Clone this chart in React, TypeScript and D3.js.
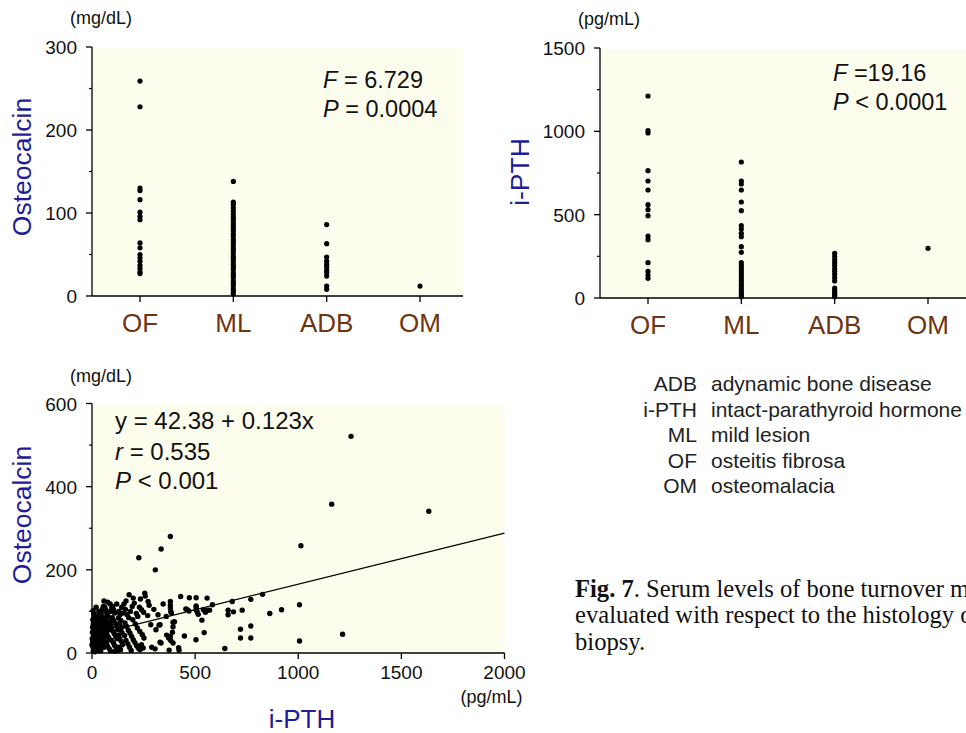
import React, { useEffect } from "react";
import * as d3 from "d3";

const W = 966;
const H = 733;
const FONT = "'Liberation Sans', Arial, sans-serif";
const SERIF = "'Liberation Serif', 'Times New Roman', serif";
const BG = "#fdfdee";
const TITLE_BLUE = "#221c98";
const CAT_BROWN = "#6e3510";

const categories = ["OF", "ML", "ADB", "OM"];

// osteocalcin (mg/dL) by histology
const ocOF = [259, 228, 130, 127, 116, 101, 96, 92, 64, 58, 50, 46, 42, 37, 33, 29, 27];
const ocML = [138, 113, 110, 106, 102, 98, 95, 92, 88, 85, 82, 79, 75, 72, 68, 65, 62, 58, 55, 52,
  48, 45, 42, 38, 35, 32, 28, 25, 22, 18, 15, 12, 8, 5, 2];
const ocADB = [86, 63, 47, 42, 38, 35, 31, 28, 24, 12, 8];
const ocOM = [12];

// i-PTH (pg/mL) by histology
const pthOF = [1212, 1005, 990, 764, 702, 648, 560, 530, 494, 372, 350, 212, 160, 138, 118];
const pthML = [816, 702, 684, 648, 576, 524, 434, 414, 388, 368, 308, 274, 212, 195, 180, 165, 150,
  135, 120, 105, 90, 75, 60, 45, 30, 18, 8];
const pthADB = [268, 250, 230, 212, 195, 175, 160, 142, 122, 102, 60, 48, 35, 25, 15, 8];
const pthOM = [298];

const yTicksOC = [0, 100, 200, 300];
const yTicksPTH = [0, 500, 1000, 1500];
const xTicksScatter = [0, 500, 1000, 1500, 2000];
const yTicksScatter = [0, 200, 400, 600];

// i-PTH vs osteocalcin, [pth, osteocalcin]
const scatter: [number, number][] = [
  [5, 102], [8, 95], [10, 88], [4, 80], [12, 75], [6, 70], [15, 66], [3, 62], [9, 58], [18, 55],
  [2, 50], [7, 46], [14, 44], [20, 42], [5, 38], [11, 35], [16, 32], [24, 30], [3, 28], [8, 25],
  [13, 22], [19, 20], [26, 18], [4, 15], [10, 12], [17, 10], [22, 8], [30, 6], [6, 5], [14, 3],
  [28, 48], [32, 40], [35, 35], [38, 28], [30, 22], [36, 15], [42, 12], [25, 60], [30, 70], [34, 78],
  [40, 85], [45, 95], [50, 105], [55, 112], [22, 80], [28, 90], [38, 55], [44, 50], [48, 42], [52, 36],
  [56, 30], [46, 24], [50, 18], [58, 14], [40, 65], [48, 72], [54, 60], [58, 48], [60, 40], [33, 100],
  [20, 110], [12, 48], [1, 34], [0, 20], [42, 5], [60, 68], [57, 85], [52, 78],
  [62, 110], [68, 103], [72, 95], [78, 88], [65, 78], [70, 70], [75, 62], [82, 56], [66, 52], [72, 45],
  [80, 38], [86, 32], [64, 28], [70, 22], [76, 16], [84, 10], [90, 5], [92, 100], [96, 108], [100, 112],
  [105, 104], [110, 96], [98, 85], [104, 78], [112, 72], [118, 65], [95, 60], [102, 52], [108, 46], [115, 40],
  [122, 34], [96, 30], [104, 24], [110, 18], [118, 12], [125, 6], [130, 100], [136, 92], [128, 84], [140, 78],
  [132, 70], [145, 62], [138, 55], [146, 48], [128, 42], [134, 35], [142, 28], [148, 20], [130, 14], [138, 8],
  [120, 118], [88, 118], [76, 122], [144, 110], [150, 96], [58, 125], [84, 75], [90, 66], [126, 56], [112, 4],
  [180, 140], [256, 144], [272, 124], [155, 118], [162, 105], [170, 92], [178, 85], [186, 100], [195, 112], [205, 120],
  [215, 95], [222, 88], [230, 110], [240, 104], [250, 98], [160, 72], [168, 64], [176, 55], [184, 48], [192, 40],
  [200, 32], [208, 25], [216, 18], [224, 12], [232, 8], [158, 42], [165, 30], [174, 22], [182, 14], [190, 6],
  [198, 80], [210, 70], [220, 60], [232, 52], [244, 44], [252, 36], [240, 20], [248, 12], [165, 125], [235, 130],
  [200, 132],
  [277, 115], [258, 137], [285, 68], [310, 56], [330, 68], [330, 26], [290, 14], [306, 10], [325, 67], [335, 24],
  [362, 43], [372, 36], [382, 30], [393, 24], [374, 7], [422, 7], [393, 74], [393, 63], [380, 124], [380, 115],
  [380, 108], [382, 100], [385, 96], [430, 136], [420, 13], [400, 75], [390, 50], [380, 40], [300, 105], [270, 90],
  [320, 92], [345, 118], [360, 88],
  [448, 41], [455, 106], [460, 105], [470, 101], [472, 133], [505, 133], [505, 110], [505, 113], [505, 104], [510, 99],
  [515, 93], [504, 32], [533, 79], [544, 49], [540, 104], [550, 98], [558, 132], [558, 103], [570, 103], [584, 116],
  [644, 11], [660, 103], [660, 92], [680, 124], [686, 99],
  [720, 57], [720, 36], [728, 103], [770, 129], [770, 65], [770, 36], [827, 141], [862, 95], [919, 104], [1006, 116],
  [1006, 29], [1013, 258], [1162, 358], [1215, 45], [1256, 521], [1633, 341], [380, 280], [335, 250], [227, 229], [307, 200],
];

const regIntercept = 42.38;
const regSlope = 0.123;

const legendAbbr = ["ADB", "i-PTH", "ML", "OF", "OM"];
const legendDesc = ["adynamic bone disease", "intact-parathyroid hormone", "mild lesion", "osteitis fibrosa", "osteomalacia"];

const captionLines = [
  "Serum levels of bone turnover markers",
  "evaluated with respect to the histology of bone",
  "biopsy.",
];

type YAxisProps = {
  x: number;
  y: d3.ScaleLinear<number, number>;
  ticks: number[];
  minor: number[];
};

function YAxis({ x, y, ticks, minor }: YAxisProps) {
  const [lo, hi] = y.domain();
  return (
    <g>
      <line x1={x} x2={x} y1={y(lo)} y2={y(hi)} stroke="#000" strokeWidth={1.3} />
      {ticks.map((t) => (
        <g key={t}>
          <line x1={x - 6} x2={x} y1={y(t)} y2={y(t)} stroke="#000" strokeWidth={1.3} />
          <text x={x - 15} y={y(t) + 7} textAnchor="end" fontSize={19} fontFamily={FONT} fill="#111">
            {t}
          </text>
        </g>
      ))}
      {minor.map((t) => (
        <line key={"m" + t} x1={x - 3} x2={x} y1={y(t)} y2={y(t)} stroke="#000" strokeWidth={1.2} />
      ))}
    </g>
  );
}

type StripProps = {
  left: number;
  right: number;
  top: number;
  bottom: number;
  max: number;
  ticks: number[];
  minor: number[];
  groups: number[][];
  unit: string;
  title: string;
  titleX: number;
  titleY: number;
  stat1: [string, string];
  stat2: [string, string];
  statX: number;
  statY: number;
};

function StripPanel(p: StripProps) {
  const y = d3.scaleLinear().domain([0, p.max]).range([p.bottom, p.top]);
  const x = d3.scalePoint<string>().domain(categories).range([p.left + 48, p.left + 328]);
  return (
    <g>
      <rect x={p.left} y={p.top + 1} width={p.right - p.left} height={p.bottom - p.top - 1} fill={BG} />
      {categories.map((c, i) =>
        p.groups[i].map((v, j) => (
          <circle key={c + j} cx={x(c)} cy={y(v)} r={2.6} fill="#000" />
        ))
      )}
      <line x1={p.left} x2={p.right} y1={p.bottom} y2={p.bottom} stroke="#000" strokeWidth={1.3} />
      {categories.map((c) => (
        <g key={c}>
          <line x1={x(c)} x2={x(c)} y1={p.bottom} y2={p.bottom + 6} stroke="#000" strokeWidth={1.3} />
          <text x={x(c)} y={p.bottom + 36} textAnchor="middle" fontSize={26} fontFamily={FONT} fill={CAT_BROWN}>
            {c}
          </text>
        </g>
      ))}
      <YAxis x={p.left} y={y} ticks={p.ticks} minor={p.minor} />
      <text x={p.left - 22} y={p.top - 23} fontSize={18} fontFamily={FONT} fill="#111">
        {p.unit}
      </text>
      <text
        transform={`translate(${p.titleX},${p.titleY}) rotate(-90)`}
        textAnchor="middle"
        fontSize={26.5}
        fontFamily={FONT}
        fill={TITLE_BLUE}
      >
        {p.title}
      </text>
      <text x={p.statX} y={p.statY} fontSize={23.5} fontFamily={FONT} fill="#111">
        <tspan fontStyle="italic">{p.stat1[0]}</tspan>
        {p.stat1[1]}
      </text>
      <text x={p.statX} y={p.statY + 28.5} fontSize={23.5} fontFamily={FONT} fill="#111">
        <tspan fontStyle="italic">{p.stat2[0]}</tspan>
        {p.stat2[1]}
      </text>
    </g>
  );
}

function ScatterPanel() {
  const left = 92;
  const right = 504.5;
  const top = 403.5;
  const bottom = 653;
  const x = d3.scaleLinear().domain([0, 2000]).range([left, right]);
  const y = d3.scaleLinear().domain([0, 600]).range([bottom, top]);
  const fit = d3
    .line<number>()
    .x((d) => x(d))
    .y((d) => y(regIntercept + regSlope * d));
  return (
    <g>
      <rect x={left} y={top + 1} width={right - left} height={bottom - top - 1} fill={BG} />
      {scatter.map((d, i) => (
        <circle key={i} cx={x(d[0])} cy={y(d[1])} r={2.7} fill="#000" />
      ))}
      <path d={fit([0, 2000]) || ""} fill="none" stroke="#000" strokeWidth={1.2} />
      <line x1={left} x2={right} y1={bottom} y2={bottom} stroke="#000" strokeWidth={1.3} />
      {xTicksScatter.map((t) => (
        <g key={t}>
          <line x1={x(t)} x2={x(t)} y1={bottom} y2={bottom + 6} stroke="#000" strokeWidth={1.3} />
          <text x={x(t)} y={bottom + 26} textAnchor="middle" fontSize={19} fontFamily={FONT} fill="#111">
            {t}
          </text>
        </g>
      ))}
      <YAxis x={left} y={y} ticks={yTicksScatter} minor={[100, 300, 500]} />
      <text x={left - 22} y={top - 22} fontSize={18} fontFamily={FONT} fill="#111">
        (mg/dL)
      </text>
      <text x={right + 18} y={bottom + 50} textAnchor="end" fontSize={18} fontFamily={FONT} fill="#111">
        (pg/mL)
      </text>
      <text x={(left + 512) / 2} y={728} textAnchor="middle" fontSize={26} fontFamily={FONT} fill={TITLE_BLUE}>
        i-PTH
      </text>
      <text
        transform="translate(31,515) rotate(-90)"
        textAnchor="middle"
        fontSize={26.5}
        fontFamily={FONT}
        fill={TITLE_BLUE}
      >
        Osteocalcin
      </text>
      <text x={115} y={429} fontSize={24} fontFamily={FONT} fill="#111">
        y = 42.38 + 0.123x
      </text>
      <text x={115} y={460} fontSize={24} fontFamily={FONT} fill="#111">
        <tspan fontStyle="italic">r</tspan> = 0.535
      </text>
      <text x={115} y={489} fontSize={24} fontFamily={FONT} fill="#111">
        <tspan fontStyle="italic">P</tspan> &lt; 0.001
      </text>
    </g>
  );
}

export default function App() {
  useEffect(() => {
    document.body.style.margin = "0";
    document.body.style.overflow = "hidden";
  }, []);

  return (
    <svg width={W} height={H} style={{ display: "block", background: "#fff" }}>
      <StripPanel
        left={92}
        right={463}
        top={47}
        bottom={296}
        max={300}
        ticks={yTicksOC}
        minor={[50, 150, 250]}
        groups={[ocOF, ocML, ocADB, ocOM]}
        unit="(mg/dL)"
        title="Osteocalcin"
        titleX={31}
        titleY={167}
        stat1={["F", " = 6.729"]}
        stat2={["P", " = 0.0004"]}
        statX={323}
        statY={88}
      />
      <StripPanel
        left={600}
        right={966}
        top={48}
        bottom={298}
        max={1500}
        ticks={yTicksPTH}
        minor={[250, 750, 1250]}
        groups={[pthOF, pthML, pthADB, pthOM]}
        unit="(pg/mL)"
        title="i-PTH"
        titleX={529}
        titleY={172}
        stat1={["F", " =19.16"]}
        stat2={["P", " < 0.0001"]}
        statX={833}
        statY={81}
      />
      <ScatterPanel />
      <g fontFamily={FONT} fontSize={21} fill="#222">
        {legendAbbr.map((a, i) => (
          <g key={a}>
            <text x={697} y={391 + i * 25.5} textAnchor="end">
              {a}
            </text>
            <text x={711} y={391 + i * 25.5}>
              {legendDesc[i]}
            </text>
          </g>
        ))}
      </g>
      <g fontFamily={SERIF} fontSize={24.6} fill="#111">
        <text x={575} y={597}>
          <tspan fontWeight="bold">Fig. 7</tspan>.{"  "}
          {captionLines[0]}
        </text>
        <text x={575} y={623}>
          {captionLines[1]}
        </text>
        <text x={575} y={650}>
          {captionLines[2]}
        </text>
      </g>
    </svg>
  );
}
